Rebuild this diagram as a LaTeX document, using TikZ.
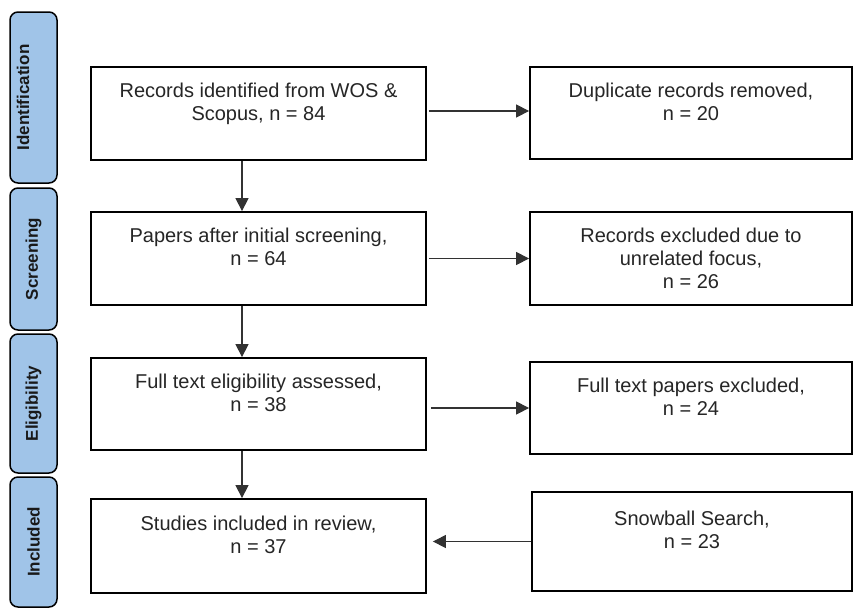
\documentclass[tikz,border=0pt]{standalone}
\usepackage{fontspec}
\setmainfont{Liberation Sans}
\usetikzlibrary{arrows.meta,calc}
\definecolor{phaseblue}{RGB}{160,196,232}
\definecolor{linegray}{RGB}{50,50,50}
\tikzset{
  box/.style={draw=black, line width=1.8pt, fill=white, inner sep=0pt, align=center,
    font={\fontsize{20}{23}\selectfont}, text=black!85},
  phase/.style={draw=black, line width=1.5pt, fill=phaseblue, rounded corners=8pt,
    inner sep=0pt, minimum width=47pt},
  phasetext/.style={rotate=90, font={\fontsize{17}{20}\selectfont\bfseries}, text=black!90, inner sep=0pt},
  arr/.style={draw=linegray, line width=1.2pt, -{Triangle[length=13pt,width=13pt]}}
}
\begin{document}
\begin{tikzpicture}[x=1pt,y=-1pt]
\useasboundingbox (0,0) rectangle (853,611);
% phase labels
\node[phase, minimum height=171pt] (pI) at (33.5,97.5) {};
\node[phasetext] (tI) at (pI.center) [yshift=10.5pt] {Identification};
\node[phase, minimum height=142pt] (pS) at (33.5,259) {};
\node[phasetext] (tS) at (pS.center) {Screening};
\node[phase, minimum height=139pt] (pE) at (33.5,403.5) {};
\node[phasetext] (tE) at (pE.center) {Eligibility};
\node[phase, minimum height=130pt] (pN) at (33.5,542) {};
\node[phasetext] (tN) at (pN.center) {Included};
% left boxes
\node[box, minimum width=335pt, minimum height=93pt] (L1) at (258.5,113.5)
  {Records identified from WOS \&\\ Scopus, n = 84\\ \mbox{}};
\node[box, minimum width=335pt, minimum height=93pt] (L2) at (258.5,258.5)
  {Papers after initial screening,\\ n = 64\\ \mbox{}};
\node[box, minimum width=335pt, minimum height=92pt] (L3) at (258.5,404)
  {Full text eligibility assessed,\\ n = 38\\ \mbox{}};
\node[box, minimum width=335pt, minimum height=94pt] (L4) at (258.5,546)
  {Studies included in review,\\ n = 37\\ \mbox{}};
% right boxes
\node[box, minimum width=322pt, minimum height=92pt] (R1) at (691,113)
  {Duplicate records removed,\\ n = 20\\ \mbox{}};
\node[box, minimum width=322pt, minimum height=93pt] (R2) at (691,258.5)
  {Records excluded due to\\ unrelated focus,\\ n = 26};
\node[box, minimum width=322pt, minimum height=92pt] (R3) at (691,408)
  {Full text papers excluded,\\ n = 24\\ \mbox{}};
\node[box, minimum width=320pt, minimum height=99pt] (R4) at (692,541.5)
  {Snowball Search,\\ n = 23\\ \mbox{}};
% horizontal connectors
\draw[arr, shorten <=2pt] ([yshift=2.5pt]L1.east) -- ([yshift=2.5pt]L1.east -| R1.west);
\draw[arr, shorten <=2pt] (L2.east) -- (L2.east -| R2.west);
\draw[arr, shorten <=4pt] (L3.east |- R3.west) -- (R3.west);
\draw[arr, shorten >=6pt] (R4.west) -- (R4.west -| L4.east);
% vertical connectors
\draw[arr] ([xshift=-16.5pt]L1.south) -- ([xshift=-16.5pt]L1.south |- L2.north);
\draw[arr] ([xshift=-16.5pt]L2.south) -- ([xshift=-16.5pt]L2.south |- L3.north);
\draw[arr] ([xshift=-16.5pt]L3.south) -- ([xshift=-16.5pt]L3.south |- L4.north);
\end{tikzpicture}
\end{document}
